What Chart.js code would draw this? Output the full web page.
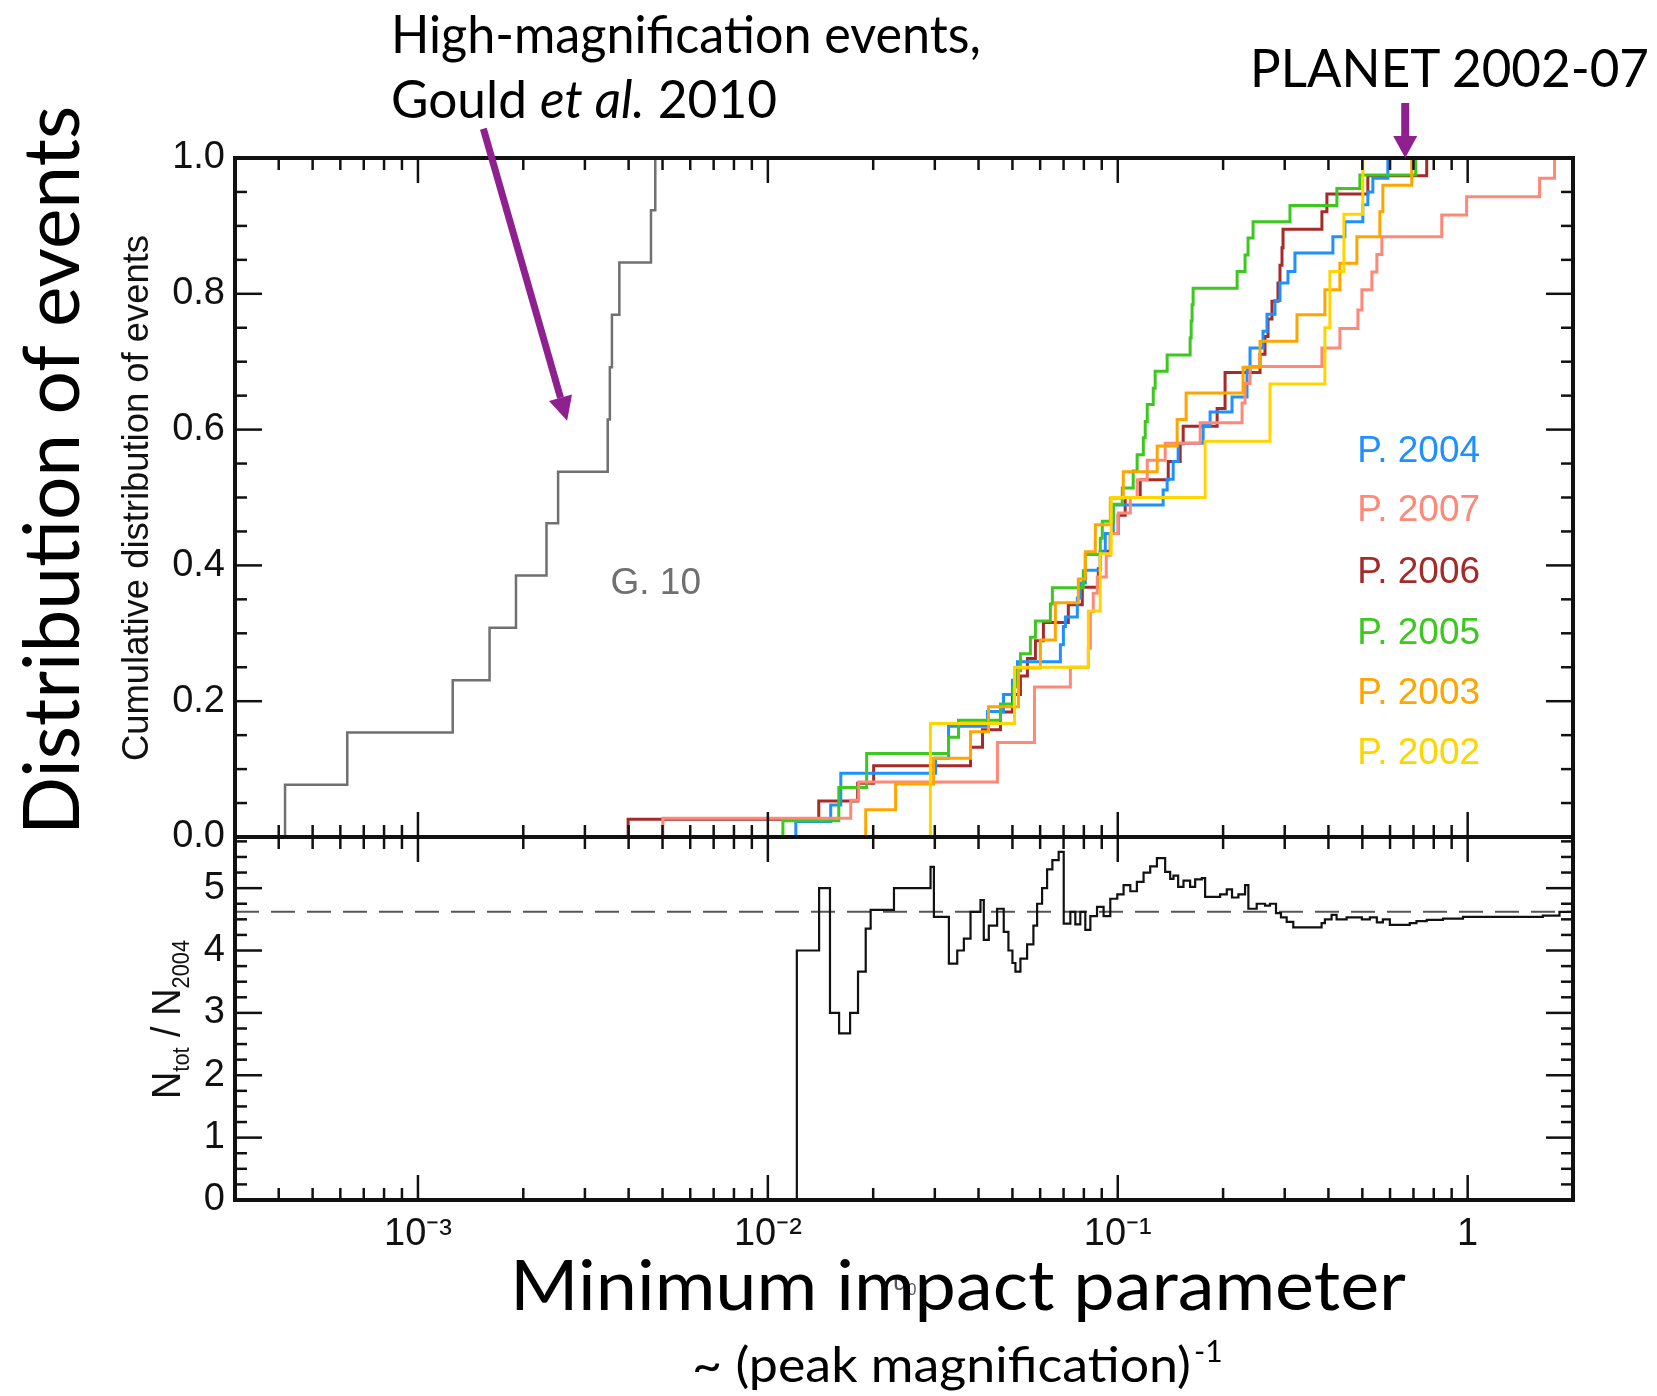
<!DOCTYPE html>
<html>
<head>
<meta charset="utf-8">
<title>Distribution of events vs minimum impact parameter</title>
<script src="https://cdn.jsdelivr.net/npm/chart.js@4.4.1/dist/chart.umd.min.js"></script>
<style>
  html, body { margin: 0; padding: 0; background: #fff; }
  #wrap { position: relative; width: 1657px; height: 1396px; }
  #chart { position: absolute; left: 0; top: 0; }
  #notes { position: absolute; left: 0; top: 0; pointer-events: none; }
  .big { font-family: Lato, "Open Sans", sans-serif; fill: #000; }
  .sans { font-family: "Liberation Sans", Arial, sans-serif; fill: #111; }
</style>
</head>
<body>
<div id="wrap">
  <canvas id="chart" width="1657" height="1396"></canvas>
  <svg id="notes" width="1657" height="1396">
    <text class="big" x="391" y="53" font-size="52" textLength="590" lengthAdjust="spacingAndGlyphs">High-magnification events,</text>
    <text class="big" x="391" y="118" font-size="52" textLength="386" lengthAdjust="spacingAndGlyphs">Gould <tspan font-style="italic">et al.</tspan> 2010</text>
    <text class="big" x="1250" y="87" font-size="53" textLength="399" lengthAdjust="spacingAndGlyphs">PLANET 2002-07</text>
    <text class="big" transform="translate(79,835) rotate(-90)" font-size="78" textLength="729" lengthAdjust="spacingAndGlyphs">Distribution of events</text>
    <text class="sans" transform="translate(148,761) rotate(-90)" font-size="36" textLength="526" lengthAdjust="spacingAndGlyphs">Cumulative distribution of events</text>
    <text class="sans" transform="translate(180,1099) rotate(-90)" font-size="40" textLength="159" lengthAdjust="spacingAndGlyphs">N<tspan font-size="23" dy="9">tot</tspan><tspan dy="-9"> / N</tspan><tspan font-size="23" dy="9">2004</tspan></text>
    <text class="sans" x="893" y="1290" font-size="26" style="fill:#556">u<tspan font-size="16" dy="5">0</tspan></text>
    <text class="big" x="510" y="1310" font-size="70" textLength="896" lengthAdjust="spacingAndGlyphs">Minimum impact parameter</text>
    <text class="big" x="692" y="1382" font-size="48" textLength="499" lengthAdjust="spacingAndGlyphs">~ (peak magnification)</text>
    <text class="big" x="1194" y="1362" font-size="30">-1</text>
  </svg>
</div>
<script>
// axis range of the minimum impact parameter u0
const uMin = 3e-4;
const uMax = 2.0;

// Gould et al. 2010 high-magnification events: u0 at each step, cumulative fraction
const uG10 = [4.17e-4, 4.17e-4, 6.28e-4, 1.257e-3, 1.602e-3, 1.906e-3, 2.33e-3, 2.515e-3, 3.486e-3, 3.535e-3, 3.584e-3, 3.763e-3, 4.634e-3, 4.767e-3];
const fG10 = [0, 0.077, 0.154, 0.231, 0.308, 0.385, 0.462, 0.538, 0.615, 0.692, 0.769, 0.846, 0.923, 1.0];

// PLANET seasons
const u2002 = [0.02914, 0.02914, 0.0507, 0.0824, 0.0891, 0.0958, 0.1777, 0.2723, 0.3908, 0.4039, 0.4429, 0.5016];
const f2002 = [0, 0.167, 0.25, 0.333, 0.417, 0.5, 0.583, 0.667, 0.75, 0.833, 0.917, 1.0];

const u2003 = [0.01904, 0.01904, 0.02318, 0.02976, 0.03795, 0.04271, 0.05202, 0.06009, 0.06632, 0.07714, 0.08077, 0.08627, 0.0952, 0.1037, 0.1296, 0.1478, 0.1568, 0.2281, 0.255, 0.3252, 0.3908, 0.4313, 0.4824, 0.561, 0.5723, 0.6921];
const f2003 = [0, 0.04, 0.078, 0.116, 0.155, 0.192, 0.249, 0.29, 0.345, 0.38, 0.42, 0.46, 0.499, 0.538, 0.576, 0.615, 0.654, 0.692, 0.73, 0.769, 0.806, 0.845, 0.884, 0.921, 0.96, 1.0];

const u2004 = [0.01202, 0.01202, 0.01512, 0.01616, 0.03015, 0.03284, 0.04243, 0.04714, 0.05, 0.05168, 0.06855, 0.06992, 0.07085, 0.07664, 0.07816, 0.08077, 0.08915, 0.09211, 0.0971, 0.1348, 0.1384, 0.144, 0.1488, 0.1754, 0.1836, 0.2121, 0.2341, 0.2388, 0.2601, 0.267, 0.2814, 0.2908, 0.3065, 0.3209, 0.4119, 0.4458, 0.5016, 0.5184, 0.5358, 0.5914];
const f2004 = [0, 0.023, 0.047, 0.094, 0.116, 0.163, 0.185, 0.21, 0.231, 0.258, 0.283, 0.31, 0.324, 0.352, 0.374, 0.393, 0.42, 0.447, 0.489, 0.511, 0.527, 0.553, 0.58, 0.606, 0.626, 0.648, 0.688, 0.72, 0.745, 0.77, 0.79, 0.816, 0.833, 0.86, 0.884, 0.906, 0.931, 0.95, 0.97, 1.0];

const u2005 = [0.01104, 0.01104, 0.01595, 0.01916, 0.03284, 0.03506, 0.04621, 0.05033, 0.051, 0.0527, 0.05627, 0.05816, 0.06418, 0.06503, 0.07971, 0.08077, 0.08915, 0.09032, 0.0971, 0.103, 0.1107, 0.1136, 0.1183, 0.1198, 0.1214, 0.1263, 0.1279, 0.1384, 0.161, 0.1621, 0.1631, 0.1642, 0.2193, 0.2311, 0.2357, 0.2436, 0.3106, 0.4229, 0.492, 0.7105];
const f2005 = [0, 0.024, 0.073, 0.123, 0.147, 0.172, 0.196, 0.221, 0.245, 0.27, 0.294, 0.318, 0.343, 0.367, 0.392, 0.416, 0.44, 0.465, 0.49, 0.514, 0.539, 0.563, 0.588, 0.612, 0.637, 0.661, 0.686, 0.71, 0.735, 0.76, 0.784, 0.808, 0.833, 0.857, 0.882, 0.906, 0.93, 0.955, 0.975, 1.0];

const u2006 = [0.003987, 0.003987, 0.01398, 0.01806, 0.02006, 0.03795, 0.04106, 0.04621, 0.05, 0.0527, 0.05518, 0.05816, 0.0613, 0.07223, 0.07918, 0.08799, 0.08915, 0.0952, 0.1003, 0.105, 0.1159, 0.1394, 0.1508, 0.1538, 0.1923, 0.2026, 0.255, 0.2635, 0.2688, 0.2759, 0.287, 0.2908, 0.2947, 0.2967, 0.3832, 0.396, 0.5184, 0.7638];
const f2006 = [0, 0.026, 0.053, 0.079, 0.105, 0.132, 0.158, 0.184, 0.21, 0.237, 0.263, 0.289, 0.316, 0.342, 0.368, 0.395, 0.421, 0.447, 0.474, 0.5, 0.526, 0.553, 0.579, 0.605, 0.631, 0.684, 0.711, 0.737, 0.763, 0.789, 0.816, 0.842, 0.868, 0.895, 0.921, 0.947, 0.974, 1.0];

const u2007 = [0.00501, 0.00501, 0.01725, 0.01818, 0.0453, 0.0578, 0.0732, 0.0824, 0.0835, 0.0851, 0.0874, 0.0927, 0.0952, 0.1003, 0.1086, 0.1136, 0.1214, 0.1366, 0.172, 0.2266, 0.2311, 0.2388, 0.3832, 0.4313, 0.4856, 0.4985, 0.5323, 0.5501, 0.5685, 0.843, 0.993, 1.605, 1.771];
const f2007 = [0, 0.0275, 0.054, 0.081, 0.139, 0.221, 0.25, 0.278, 0.332, 0.359, 0.383, 0.415, 0.447, 0.477, 0.5, 0.526, 0.555, 0.58, 0.61, 0.639, 0.668, 0.693, 0.72, 0.749, 0.776, 0.806, 0.832, 0.858, 0.884, 0.916, 0.943, 0.97, 1.0];

// lower panel: N_tot / N_2004 below each u0, and its overall value
const uRatio = [0.0121, 0.0121, 0.01401, 0.01505, 0.01598, 0.01718, 0.0181, 0.01904, 0.01967, 0.02293,
  0.02917, 0.02982, 0.03291, 0.03477, 0.03632, 0.03795, 0.04052, 0.04141, 0.0428, 0.04521,
  0.04722, 0.0487, 0.05, 0.051, 0.0527, 0.05507, 0.0574, 0.05882, 0.06078, 0.06281,
  0.06503, 0.06779, 0.07007, 0.0732, 0.07563, 0.07816, 0.08077, 0.0835, 0.08724, 0.0911,
  0.0952, 0.09968, 0.1039, 0.1086, 0.1134, 0.1185, 0.1238, 0.1294, 0.1366, 0.1412,
  0.1443, 0.1488, 0.1541, 0.161, 0.1664, 0.1739, 0.1777, 0.1961, 0.2049, 0.2121,
  0.2212, 0.2311, 0.2362, 0.2495, 0.2635, 0.2723, 0.2833, 0.2927, 0.3039, 0.3174,
  0.3824, 0.3908, 0.4084, 0.4221, 0.4508, 0.4813, 0.4985, 0.5254, 0.5501, 0.5723,
  0.5992, 0.6831, 0.7139, 0.7638, 0.8502, 0.9696, 1.64, 1.83, 2.0];
const ratio = [0, 4.0, 5.0, 3.0, 2.67, 3.0, 3.66, 4.35, 4.65, 5.0,
  5.34, 4.54, 3.79, 4.0, 4.19, 4.62, 4.81, 4.17, 4.4, 4.67,
  4.3, 4.0, 3.8, 3.66, 3.87, 4.1, 4.4, 4.75, 5.0, 5.3,
  5.45, 5.58, 4.43, 4.62, 4.42, 4.62, 4.33, 4.55, 4.7, 4.55,
  4.83, 4.9, 5.05, 4.95, 5.1, 5.25, 5.35, 5.48, 5.26, 5.15,
  5.2, 5.02, 5.12, 5.02, 5.14, 5.16, 4.86, 4.9, 4.98, 4.85,
  4.9, 5.05, 4.67, 4.75, 4.72, 4.75, 4.6, 4.53, 4.46, 4.37,
  4.44, 4.5, 4.57, 4.5, 4.53, 4.53, 4.5, 4.53, 4.45, 4.5,
  4.41, 4.44, 4.47, 4.49, 4.51, 4.54, 4.56, 4.62, 4.62];
const ratioMean = 4.62;
const ratioMax = 5.82;

// tick labels
const xTickValues = [1e-3, 1e-2, 1e-1, 1];
const xTickLabels = ['10⁻³', '10⁻²', '10⁻¹', '1'];

// in-plot labels and where they sit (u0, fraction)
const legendLabels = ['P. 2004', 'P. 2007', 'P. 2006', 'P. 2005', 'P. 2003', 'P. 2002'];
const legendLevels = [0.568, 0.481, 0.389, 0.300, 0.211, 0.123];
const legendU = 1.085;
const g10Label = 'G. 10';
const g10LabelAt = [3.55e-3, 0.373];
const gouldArrow = [[1.538e-3, 1.043], [2.669e-3, 0.613]];
const planetArrow = [[0.663, 1.081], [0.663, 1.0]];

const colors = {
  '2002': '#ffd500',
  '2003': '#ffa500',
  '2004': '#1e90ff',
  '2005': '#3cc81e',
  '2006': '#a52a2a',
  '2007': '#ff8878',
  g10: '#707070',
  arrow: '#8e2090'
};

const toPoints = (us, vs) => us.map((u, i) => ({ x: u, y: vs[i] }));

const stepLine = (label, us, vs, color, width, axis) => ({
  label,
  data: toPoints(us, vs),
  yAxisID: axis,
  borderColor: color,
  borderWidth: width,
  stepped: 'before',
  pointRadius: 0,
  fill: false
});

const datasets = [
  stepLine('P. 2002', u2002, f2002, colors['2002'], 3, 'y'),
  stepLine('P. 2003', u2003, f2003, colors['2003'], 3, 'y'),
  stepLine('P. 2007', u2007, f2007, colors['2007'], 3, 'y'),
  stepLine('P. 2005', u2005, f2005, colors['2005'], 3, 'y'),
  stepLine('P. 2004', u2004, f2004, colors['2004'], 3, 'y'),
  stepLine('P. 2006', u2006, f2006, colors['2006'], 3, 'y'),
  stepLine('G. 10', uG10, fG10, colors.g10, 2.5, 'y'),
  stepLine('Ntot/N2004', uRatio, ratio, '#111', 2.2, 'y2'),
  {
    label: 'mean ratio',
    data: [{ x: uMin, y: ratioMean }, { x: uMax, y: ratioMean }],
    yAxisID: 'y2',
    borderColor: '#555',
    borderWidth: 2,
    borderDash: [24, 12],
    pointRadius: 0,
    fill: false
  }
];

const tickFont = { family: '"Liberation Sans", Arial, sans-serif', size: 38 };

function seg(ctx, x1, y1, x2, y2) {
  ctx.beginPath();
  ctx.moveTo(x1, y1);
  ctx.lineTo(x2, y2);
  ctx.stroke();
}

function arrow(ctx, x1, y1, x2, y2, shaft, head, half) {
  const a = Math.atan2(y2 - y1, x2 - x1);
  const bx = x2 - head * Math.cos(a), by = y2 - head * Math.sin(a);
  ctx.lineWidth = shaft;
  seg(ctx, x1, y1, bx, by);
  ctx.beginPath();
  ctx.moveTo(x2, y2);
  ctx.lineTo(bx + half * Math.sin(a), by - half * Math.cos(a));
  ctx.lineTo(bx - half * Math.sin(a), by + half * Math.cos(a));
  ctx.closePath();
  ctx.fill();
}

// IDL-style frames with inward ticks, labels inside the plot, arrows
const panelFrame = {
  id: 'panelFrame',
  afterDatasetsDraw(chart) {
    const { ctx, scales: { x, y, y2 } } = chart;
    ctx.save();
    ctx.strokeStyle = '#111';
    ctx.lineCap = 'butt';

    ctx.lineWidth = 2.5;
    const xt = [];
    for (let d = -4; d <= 0; d++) {
      for (let m = 1; m <= 9; m++) {
        const v = m * Math.pow(10, d);
        if (v > x.min && v < x.max) xt.push([v, m === 1]);
      }
    }
    [y, y2].forEach(s => {
      xt.forEach(([v, major]) => {
        const px = x.getPixelForValue(v);
        const len = major ? 25 : 12;
        seg(ctx, px, s.top, px, s.top + len);
        seg(ctx, px, s.bottom, px, s.bottom - len);
      });
    });
    for (let i = 1; i < 20; i++) {
      const py = y.getPixelForValue(i * 0.05);
      const len = i % 4 === 0 ? 27 : 12;
      seg(ctx, x.left, py, x.left + len, py);
      seg(ctx, x.right, py, x.right - len, py);
    }
    for (let i = 1; i * 0.25 < y2.max; i++) {
      const py = y2.getPixelForValue(i * 0.25);
      const len = i % 4 === 0 ? 27 : 12;
      seg(ctx, x.left, py, x.left + len, py);
      seg(ctx, x.right, py, x.right - len, py);
    }

    ctx.lineWidth = 4;
    ctx.strokeRect(x.left, y.top, x.right - x.left, y.bottom - y.top);
    ctx.strokeRect(x.left, y2.top, x.right - x.left, y2.bottom - y2.top);

    ctx.font = '37px "Liberation Sans", Arial, sans-serif';
    ctx.textBaseline = 'middle';
    ctx.textAlign = 'left';
    ctx.fillStyle = colors.g10;
    ctx.fillText(g10Label, x.getPixelForValue(g10LabelAt[0]), y.getPixelForValue(g10LabelAt[1]));

    ctx.textAlign = 'right';
    legendLabels.forEach((lab, i) => {
      ctx.fillStyle = colors[lab.slice(-4)];
      ctx.fillText(lab, x.getPixelForValue(legendU), y.getPixelForValue(legendLevels[i]));
    });
    ctx.restore();
  },
  afterDraw(chart) {
    const { ctx, scales: { x, y } } = chart;
    ctx.save();
    ctx.strokeStyle = colors.arrow;
    ctx.fillStyle = colors.arrow;
    const p = ([u, f]) => [x.getPixelForValue(u), y.getPixelForValue(f)];
    const [g0, g1] = gouldArrow.map(p);
    arrow(ctx, g0[0], g0[1], g1[0], g1[1], 7, 24, 12);
    const [p0, p1] = planetArrow.map(p);
    arrow(ctx, p0[0], p0[1], p1[0], p1[1], 8, 22, 12);
    ctx.restore();
  }
};

new Chart(document.getElementById('chart').getContext('2d'), {
  type: 'line',
  data: { datasets },
  options: {
    responsive: false,
    animation: false,
    events: [],
    layout: { padding: { left: 125, top: 158, right: 84, bottom: 136 } },
    plugins: { legend: { display: false }, tooltip: { enabled: false } },
    scales: {
      x: {
        type: 'logarithmic',
        position: 'bottom',
        min: uMin,
        max: uMax,
        grid: { display: false, drawTicks: false },
        border: { display: false },
        ticks: {
          font: tickFont,
          color: '#111',
          padding: 12,
          autoSkip: false,
          maxRotation: 0,
          minRotation: 0,
          callback: v => {
            const i = xTickValues.indexOf(v);
            return i >= 0 ? xTickLabels[i] : '';
          }
        },
        afterBuildTicks: s => { s.ticks = xTickValues.map(value => ({ value })); },
        afterFit: s => { s.height = 60; }
      },
      y: {
        type: 'linear',
        position: 'left',
        stack: 'panels',
        stackWeight: 679,
        weight: 1,
        min: 0,
        max: 1,
        grid: { display: false, drawTicks: false },
        border: { display: false },
        ticks: { stepSize: 0.2, autoSkip: false, padding: 10, color: '#111', font: tickFont, callback: v => v.toFixed(1) },
        afterFit: s => { s.width = 110; }
      },
      y2: {
        type: 'linear',
        position: 'left',
        stack: 'panels',
        stackWeight: 363,
        weight: 0,
        min: 0,
        max: ratioMax,
        grid: { display: false, drawTicks: false },
        border: { display: false },
        ticks: { stepSize: 1, includeBounds: false, autoSkip: false, padding: 10, color: '#111', font: tickFont, callback: v => String(Math.round(v)) },
        afterFit: s => { s.width = 110; }
      }
    }
  },
  plugins: [panelFrame]
});
</script>
</body>
</html>
